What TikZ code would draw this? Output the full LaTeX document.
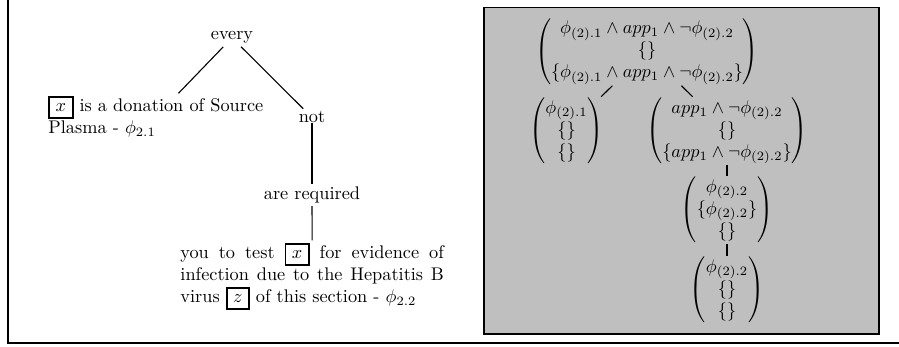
\documentclass[tikz,border=0pt]{standalone}
\usepackage{amsmath}
\setlength{\fboxsep}{3pt}
\setlength{\fboxrule}{1pt}
\newcommand{\bx}[1]{\fbox{$#1$}}
\begin{document}
\begin{tikzpicture}[x=0.5464pt, y=-0.5464pt,
  tx/.style={inner sep=1.5pt},
  mx/.style={inner sep=0.5pt},
  conn/.style={line width=0.6pt}]
\useasboundingbox (0,0) rectangle (899,347);
\draw[line width=1.1pt] (8,0) -- (8,343) -- (899,343);
\draw[fill=lightgray, line width=0.8pt] (484,7.5) rectangle (879,334);
% left tree
\node[tx, anchor=base] (every) at (232,40) {every};
\node[tx, anchor=north west, align=left] (c1) at (45.3,93.3) {\bx{x} is a donation of Source\\Plasma - $\phi_{2.1}$};
\node[tx, anchor=base] (not) at (312,123) {not};
\node[tx, anchor=base] (req) at (312,199.5) {are required};
\node[tx, anchor=north west, text width=144pt, align=justify] (c3) at (177.3,240.3) {you to test \bx{x} for evidence of\linebreak infection due to the Hepatitis B\linebreak virus \bx{z} of this section - $\phi_{2.2}$};
\draw[conn] (every) -- (c1);
\draw[conn] (every) -- (not);
\draw[conn] (not.base) -- (req);
\draw[conn] (req) -- (c3);
% right tree
\node[mx] (m1) at (647,51.5) {$\begin{pmatrix}\phi_{(2).1}\wedge app_1\wedge\neg\phi_{(2).2}\\ \{\}\\ \{\phi_{(2).1}\wedge app_1\wedge\neg\phi_{(2).2}\}\end{pmatrix}$};
\node[mx] (m2) at (566.5,131) {$\begin{pmatrix}\phi_{(2).1}\\ \{\}\\ \{\}\end{pmatrix}$};
\node[mx] (m3) at (727,131) {$\begin{pmatrix}app_1\wedge\neg\phi_{(2).2}\\ \{\}\\ \{app_1\wedge\neg\phi_{(2).2}\}\end{pmatrix}$};
\node[mx] (m4) at (727,210) {$\begin{pmatrix}\phi_{(2).2}\\ \{\phi_{(2).2}\}\\ \{\}\end{pmatrix}$};
\node[mx] (m5) at (727,290) {$\begin{pmatrix}\phi_{(2).2}\\ \{\}\\ \{\}\end{pmatrix}$};
\draw[conn] (m1) -- (m2);
\draw[conn] (m1) -- (m3);
\draw[conn] (m3) -- (m4);
\draw[conn] (m4) -- (m5);
\end{tikzpicture}
\end{document}
